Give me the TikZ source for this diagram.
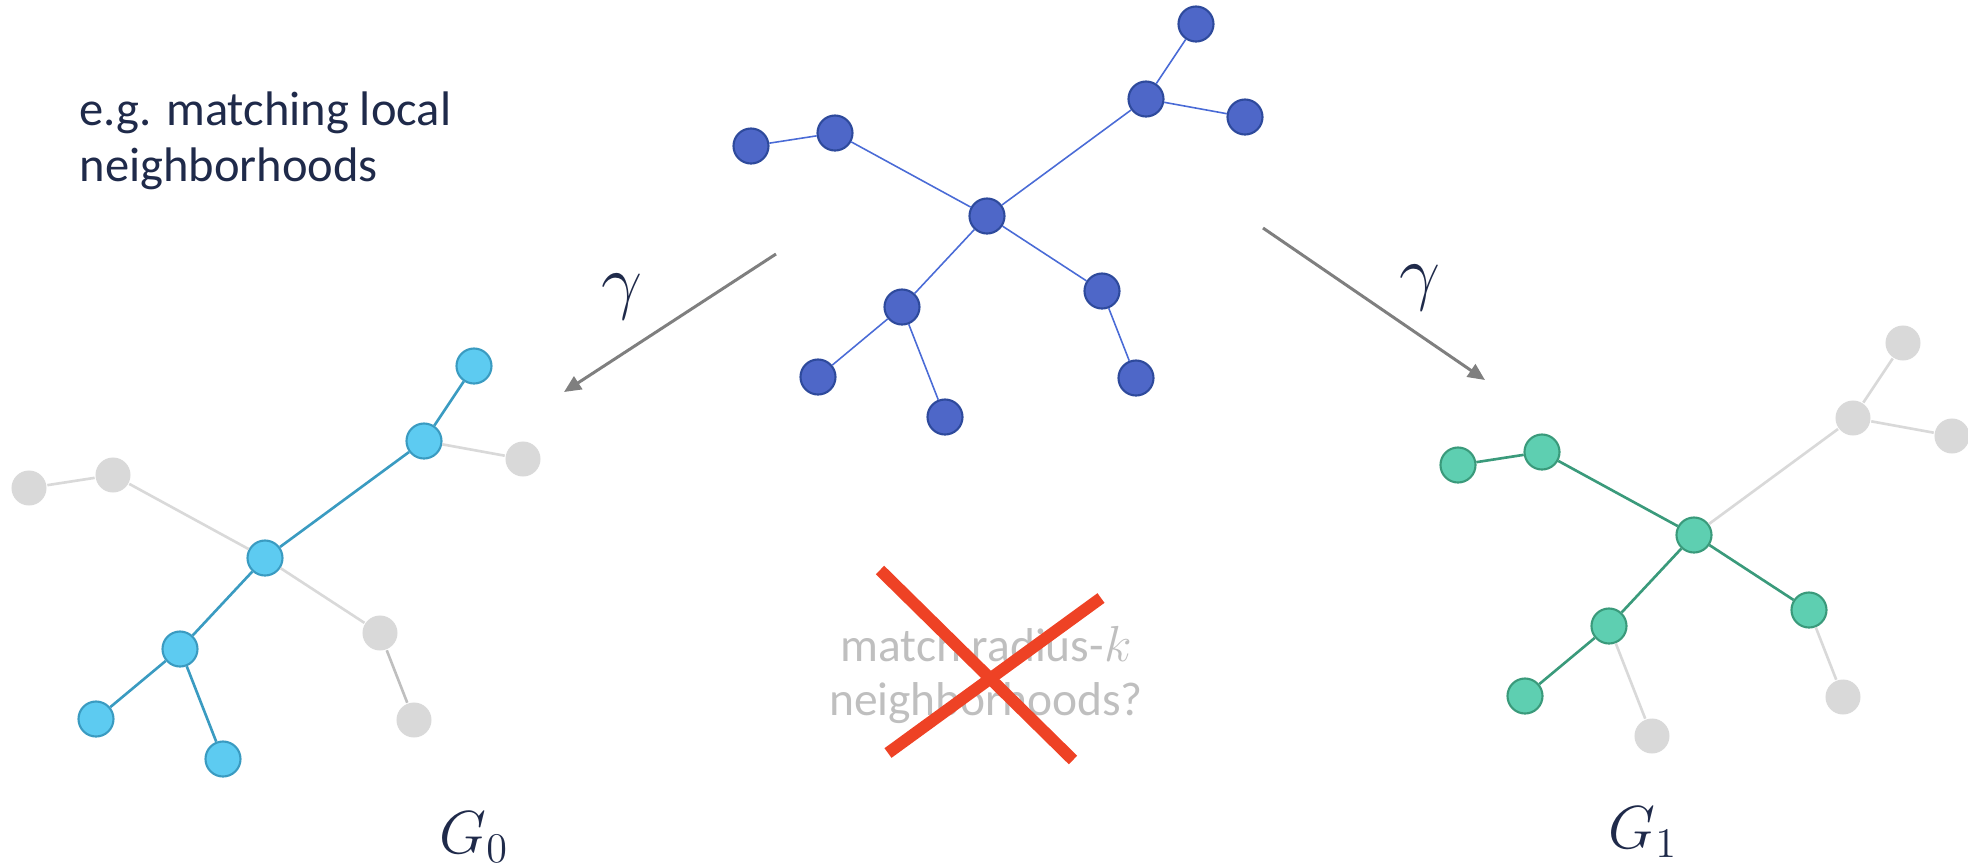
\documentclass[tikz,border=0pt]{standalone}
\usepackage{fontspec}
\setmainfont{Carlito}
\usetikzlibrary{arrows.meta}
\definecolor{inkNavy}{HTML}{1F2A4A}
\definecolor{topFill}{HTML}{4E67C8}
\definecolor{topRim}{HTML}{2E4A9C}
\definecolor{topLine}{HTML}{4A6BD6}
\definecolor{cyanFill}{HTML}{5DCBF1}
\definecolor{cyanRim}{HTML}{3A9BC1}
\definecolor{mintFill}{HTML}{5ECFB1}
\definecolor{mintRim}{HTML}{3A9A7B}
\definecolor{offGray}{HTML}{D9D9D9}
\definecolor{arrowGray}{HTML}{7F7F7F}
\definecolor{crossRed}{HTML}{EE4225}
\definecolor{fadeGray}{HTML}{BFBFBF}

\begin{document}
\begin{tikzpicture}[
    x=0.01cm, y=-0.01cm,
    vtx/.style={circle, inner sep=0pt, minimum size=0.35cm, line width=0.6pt},
    topv/.style={vtx, draw=topRim, fill=topFill},
    cyanv/.style={vtx, draw=cyanRim, fill=cyanFill},
    mintv/.style={vtx, draw=mintRim, fill=mintFill},
    offv/.style={vtx, fill=offGray},
    tope/.style={topLine, line width=0.45pt},
    cyane/.style={cyanRim, line width=0.75pt},
    minte/.style={mintRim, line width=0.75pt},
    offe/.style={offGray, line width=0.75pt},
    map/.style={-{Triangle[length=0.17cm, width=0.15cm]}, arrowGray, line width=0.85pt},
    lbl/.style={text=inkNavy, inner sep=0pt}
  ]
    \useasboundingbox (0,0) rectangle (1968,866);

    % original graph
    \begin{scope}[shift={(987,216)}]
      \node[topv] (uc) at (0,0) {};
      \node[topv] (u1) at (209,-192) {};
      \node[topv] (u2) at (159,-117) {};
      \node[topv] (u3) at (258,-99) {};
      \node[topv] (u4) at (-152,-83) {};
      \node[topv] (u5) at (-236,-70) {};
      \node[topv] (u6) at (-85,91) {};
      \node[topv] (u7) at (115,75) {};
      \node[topv] (u8) at (-169,161) {};
      \node[topv] (u9) at (-42,201) {};
      \node[topv] (u10) at (149,162) {};
    \end{scope}
    \draw[tope] (u5) -- (u4);
    \draw[tope] (u4) -- (uc);
    \draw[tope] (uc) -- (u2);
    \draw[tope] (u2) -- (u1);
    \draw[tope] (u2) -- (u3);
    \draw[tope] (uc) -- (u6);
    \draw[tope] (uc) -- (u7);
    \draw[tope] (u6) -- (u8);
    \draw[tope] (u6) -- (u9);
    \draw[tope] (u7) -- (u10);

    % G_0
    \begin{scope}[shift={(265,558)}]
      \node[cyanv] (lc) at (0,0) {};
      \node[cyanv] (l1) at (209,-192) {};
      \node[cyanv] (l2) at (159,-117) {};
      \node[offv] (l3) at (258,-99) {};
      \node[offv] (l4) at (-152,-83) {};
      \node[offv] (l5) at (-236,-70) {};
      \node[cyanv] (l6) at (-85,91) {};
      \node[offv] (l7) at (115,75) {};
      \node[cyanv] (l8) at (-169,161) {};
      \node[cyanv] (l9) at (-42,201) {};
      \node[offv] (l10) at (149,162) {};
    \end{scope}
    \draw[offe] (l5) -- (l4);
    \draw[offe] (l4) -- (lc);
    \draw[cyane] (lc) -- (l2);
    \draw[cyane] (l2) -- (l1);
    \draw[offe] (l2) -- (l3);
    \draw[cyane] (lc) -- (l6);
    \draw[offe] (lc) -- (l7);
    \draw[cyane] (l6) -- (l8);
    \draw[cyane] (l6) -- (l9);
    \draw[offe, fadeGray] (l7) -- (l10);

    % G_1
    \begin{scope}[shift={(1694,535)}]
      \node[mintv] (rc) at (0,0) {};
      \node[offv] (r1) at (209,-192) {};
      \node[offv] (r2) at (159,-117) {};
      \node[offv] (r3) at (258,-99) {};
      \node[mintv] (r4) at (-152,-83) {};
      \node[mintv] (r5) at (-236,-70) {};
      \node[mintv] (r6) at (-85,91) {};
      \node[mintv] (r7) at (115,75) {};
      \node[mintv] (r8) at (-169,161) {};
      \node[offv] (r9) at (-42,201) {};
      \node[offv] (r10) at (149,162) {};
    \end{scope}
    \draw[minte] (r5) -- (r4);
    \draw[minte] (r4) -- (rc);
    \draw[offe] (rc) -- (r2);
    \draw[offe] (r2) -- (r1);
    \draw[offe] (r2) -- (r3);
    \draw[minte] (rc) -- (r6);
    \draw[minte] (rc) -- (r7);
    \draw[minte] (r6) -- (r8);
    \draw[offe] (r6) -- (r9);
    \draw[offe] (r7) -- (r10);

    % maps
    \coordinate (mapL0) at (776,254);
    \coordinate (mapL1) at (564,392);
    \coordinate (mapR0) at (1263,228);
    \coordinate (mapR1) at (1485,380);
    \draw[map] (mapL0) -- (mapL1);
    \draw[map] (mapR0) -- (mapR1);
    \node[lbl, font=\fontsize{20pt}{22pt}\selectfont] (gamL) at (622,297) {$\gamma$};
    \node[lbl, font=\fontsize{20pt}{22pt}\selectfont] (gamR) at (1420,288) {$\gamma$};

    \node[lbl, font=\fontsize{17pt}{19pt}\selectfont] (nameL) at (474,837) {$G_0$};
    \node[lbl, font=\fontsize{17pt}{19pt}\selectfont] (nameR) at (1643,832) {$G_1$};

    % texts
    \node[lbl, anchor=west, align=left, font=\fontsize{13.8pt}{15.9pt}\selectfont] (note) at (79,141) {e.g. matching local\\neighborhoods};
    \node[lbl, text=fadeGray, align=center, font=\fontsize{13.5pt}{15.6pt}\selectfont] (ask) at (986,675) {match radius-$k$\\neighborhoods?};

    % cross
    \coordinate (xa) at (880,570);
    \coordinate (xb) at (1073,760);
    \coordinate (xc) at (888,753);
    \coordinate (xd) at (1101,598);
    \draw[crossRed, line width=3.4pt] (xa) -- (xb);
    \draw[crossRed, line width=3.4pt] (xc) -- (xd);
  \end{tikzpicture}
\end{document}
